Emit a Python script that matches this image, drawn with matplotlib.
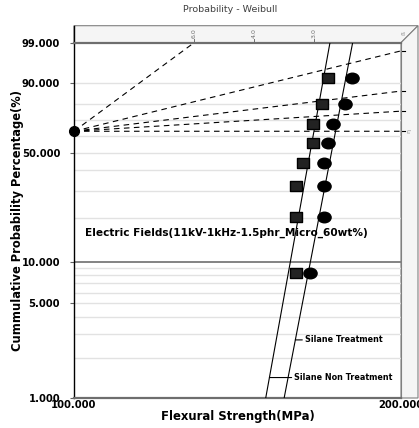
import numpy as np
import matplotlib
matplotlib.use("Agg")
import matplotlib.pyplot as plt
from matplotlib.path import Path
from matplotlib.patches import Polygon
from matplotlib.transforms import Affine2D, blended_transform_factory

# --- data ---
# median-rank unreliability (%) for the 8 specimens
rank_pct = [8.33, 20.24, 32.14, 44.05, 55.95, 67.86, 79.76, 91.67]
# flexural strength (MPa)
strength_non = [160.0, 160.0, 160.1, 162.6, 166.0, 166.0, 169.3, 171.2]
strength_silane = [164.9, 169.9, 169.9, 169.9, 171.2, 173.1, 177.7, 180.4]

# fitted weibull parameters (beta, eta)
fit_non = (45.0, 166.3)
fit_silane = (42.2, 174.1)

# beta scale lines drawn from the pivot
beta_lines = [6.0, 2.0, 1.0, 0.5, 0.0]
beta_ticks = [6.0, 4.0, 3.0]
beta_labels = ["6.0", "4.0", "3.0"]

y_ticks = [1, 5, 10, 50, 90, 99]
y_ticklabels = ["1.000", "5.000", "10.000", "50.000", "90.000", "99.000"]
grid_pct = [2, 3, 4, 5, 6, 7, 8, 9, 20, 30, 40, 50, 60, 70, 80, 90]

x_min, x_max = 100, 200
p_min, p_max = 1, 99
pivot_pct = 63.21


def fwd(F):
    F = np.clip(np.asarray(F, dtype=float) / 100.0, 1e-12, 1 - 1e-12)
    return np.log(-np.log(1 - F))


def inv(y):
    return 100.0 * (1 - np.exp(-np.exp(np.asarray(y, dtype=float))))


W, H = 419, 428
fig = plt.figure(figsize=(W / 100, H / 100), dpi=100)
ax = fig.add_axes([74 / W, (H - 398) / H, 327 / W, 355.3 / H])
ax.set_xscale("log")
ax.set_yscale("function", functions=(fwd, inv))
ax.set_xlim(x_min, x_max)
ax.set_ylim(p_min, p_max)

# grid
for g in grid_pct:
    ax.axhline(g, color="#e2e2e2", lw=1.0, zorder=1)
ax.axhline(10, color="#7a7a7a", lw=1.3, zorder=1)

ax.set_yticks(y_ticks)
ax.set_yticklabels(y_ticklabels, fontsize=7.2, fontweight="bold")
ax.set_xticks([x_min, x_max])
ax.set_xticklabels(["100.000", "200.000"], fontsize=7.2, fontweight="bold")
ax.xaxis.set_minor_locator(matplotlib.ticker.NullLocator())
ax.yaxis.set_minor_locator(matplotlib.ticker.NullLocator())
ax.tick_params(axis="y", length=3, color="#606060", pad=7)
ax.tick_params(axis="x", length=0, pad=1.5)

ax.spines["left"].set_color("black")
ax.spines["left"].set_linewidth(1.0)
ax.spines["bottom"].set_color("#6e6e6e")
ax.spines["bottom"].set_linewidth(1.6)
ax.spines["top"].set_color("#6e6e6e")
ax.spines["top"].set_linewidth(1.6)
ax.spines["right"].set_color("#808080")
ax.spines["right"].set_linewidth(0.8)

# 3D-looking strips (top and right)
dx, dy = 17 / 327, 17 / 355.3
top_strip = Polygon([(0, 1), (0, 1 + dy), (1 + dx, 1 + dy), (1, 1)], closed=True,
                    facecolor="#f5f5f5", edgecolor="#808080", lw=0.8,
                    transform=ax.transAxes, clip_on=False, zorder=0)
right_strip = Polygon([(1, 1), (1 + dx, 1 + dy), (1 + dx, 0), (1, 0)], closed=True,
                      facecolor="#f5f5f5", edgecolor="#808080", lw=0.8,
                      transform=ax.transAxes, clip_on=False, zorder=0)
ax.add_patch(top_strip)
ax.add_patch(right_strip)
ax.plot([0, 0], [1, 1 + dy], color="black", lw=1.0, transform=ax.transAxes, clip_on=False)

# beta scale lines from the pivot
y_top = float(fwd(p_max))
for b in beta_lines:
    if b > 0:
        y_end = min(y_top, b * np.log(x_max / x_min))
        t_end = x_min * np.exp(y_end / b)
    else:
        y_end, t_end = 0.0, x_max
    ax.plot([x_min, t_end], [pivot_pct, float(inv(y_end))], color="black", lw=0.8,
            linestyle=(0, (5, 4)), zorder=2)
    if t_end >= x_max * 0.999:
        ax.plot([x_max, x_max * 1.0075], [float(inv(y_end))] * 2, color="black",
                lw=0.8, clip_on=False, zorder=2)

btr = blended_transform_factory(ax.transData, ax.transAxes)
for b, lab in zip(beta_ticks, beta_labels):
    t = x_min * np.exp(y_top / b)
    ax.plot([t, t], [1, 1 + 4 / 355.3], color="#707070", lw=0.7, transform=btr, clip_on=False)
    ax.text(t, 1 + 5 / 355.3, lab, rotation=90, fontsize=4.5, color="#707070",
            ha="center", va="bottom", transform=btr)
ax.text(1.008, 1.028, "ß", rotation=90, fontsize=4.5, color="#909090",
        ha="center", va="center", transform=ax.transAxes)
ax.text(1 + 8 / 327, pivot_pct, "η", rotation=90, fontsize=4.5, color="#909090",
        ha="center", va="center", transform=blended_transform_factory(ax.transAxes, ax.transData))

ax.plot(x_min, pivot_pct, "o", color="black", ms=7, clip_on=False, zorder=6)

# fitted lines
F_line = np.array([p_min, p_max], dtype=float)
for beta, eta in (fit_non, fit_silane):
    t_line = eta * (-np.log(1 - F_line / 100)) ** (1 / beta)
    ax.plot(t_line, F_line, color="black", lw=0.8, zorder=3)

# markers
ellipse = Path.unit_circle().transformed(Affine2D().scale(1.25, 1.0))
rect = Path.unit_rectangle().transformed(Affine2D().translate(-0.5, -0.5).scale(1.25, 1.0))
ax.plot(strength_non, rank_pct, linestyle="none", marker=rect, ms=9,
        markerfacecolor="#222222", markeredgecolor="black", zorder=4)
ax.plot(strength_silane, rank_pct, linestyle="none", marker=ellipse, ms=9.5,
        markerfacecolor="black", markeredgecolor="black", zorder=4)

# line labels
for (beta, eta), F_lab, name, off in ((fit_silane, 2.70, "Silane Treatment", 7),
                                      (fit_non, 1.42, "Silane Non Treatment", 18)):
    t_lab = eta * (-np.log(1 - F_lab / 100)) ** (1 / beta)
    ax.annotate(name, xy=(t_lab, F_lab), xytext=(off, 0), textcoords="offset points",
                fontsize=5.8, fontweight="bold", ha="left", va="center",
                arrowprops=dict(arrowstyle="-", color="black", lw=0.8,
                                shrinkA=0, shrinkB=0))

ax.text(0.034, 0.465, "Electric Fields(11kV-1kHz-1.5phr_Micro_60wt%)",
        transform=ax.transAxes, fontsize=7.6, fontweight="bold", va="center", ha="left")

ax.set_xlabel("Flexural Strength(MPa)", fontsize=8.4, fontweight="bold", labelpad=0)
ax.set_ylabel("Cummulative Probability Percentage(%)", fontsize=8.3, fontweight="bold",
              labelpad=-2)
fig.text(229.7 / W, 1 - 10 / H, "Probability - Weibull", fontsize=6.8, color="#404040",
         ha="center", va="center")

fig.savefig("out.png", dpi=100)
